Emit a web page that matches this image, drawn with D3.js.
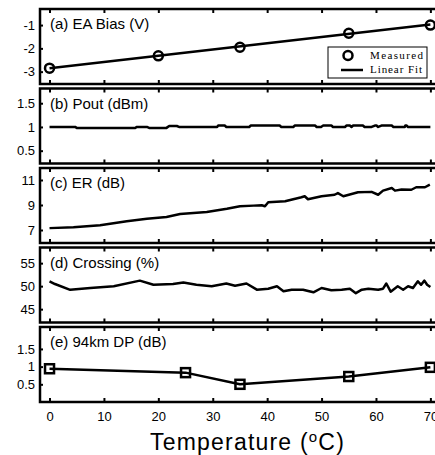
<!DOCTYPE html>
<html>
<head>
<meta charset="utf-8">
<script src="https://cdn.jsdelivr.net/npm/d3@7"></script>
<style>
  body { margin: 0; background: #fff; }
  svg { display: block; }
  .tick text { font-family: "Liberation Sans", Arial, sans-serif; font-size: 13px; fill: #000; }
  .tick line { stroke: #000; stroke-width: 2; }
  .plabel { font-family: "Liberation Sans", Arial, sans-serif; font-size: 15px; }
  .legend { font-family: "Liberation Serif", "Times New Roman", serif; font-size: 11px; }
</style>
</head>
<body>
<div id="chart"></div>
<script>
const width = 435;
const height = 455;

// x axis ticks (temperature, degC)
const xTicks = [0, 10, 20, 30, 40, 50, 60, 70];

// (a) EA bias, measured points and linear fit
const biasT = [0, 20, 35, 55, 70];
const biasV = [-2.85, -2.32, -1.95, -1.35, -1.0];
const fitT = [0, 70];
const fitV = [-2.85, -0.98];

// (b) output power (dBm)
const poutT = [0, 4.7, 5, 15.8, 16, 17.9, 18.3, 21.5, 22, 23.4, 23.8, 30.8, 31, 32.2, 32.5, 36.7, 37,
  42.3, 42.6, 44.8, 45.1, 48.8, 49.1, 49.9, 50.3, 51.8, 52.1, 54.3, 54.6, 55.2, 55.5, 55.8, 57.6,
  57.9, 59.2, 59.8, 60.1, 60.4, 61, 62.9, 63.2, 65.3, 65.4, 65.6, 65.9, 70];
const poutV = [1.0, 1.0, 0.98, 0.98, 1.0, 1.0, 0.98, 0.98, 1.02, 1.02, 1.0, 1.0, 1.03, 1.03, 1.0, 1.0, 1.03,
  1.03, 1.0, 1.0, 1.03, 1.03, 1.0, 1.0, 1.03, 1.03, 1.0, 1.0, 1.03, 1.03, 1.0, 1.03, 1.03,
  1.0, 1.0, 1.03, 1.03, 1.0, 1.03, 1.03, 1.0, 1.0, 1.03, 1.03, 1.0, 1.0];

// (c) extinction ratio (dB)
const erT = [0, 4.4, 9.3, 14.2, 17.9, 21.5, 24, 28.9, 32.6, 35, 37.5, 39, 39.6, 40.2, 43.3, 46.3, 46.9,
  47.5, 50, 52.4, 53, 54, 56.7, 59.2, 60.4, 61.3, 62.9, 63.5, 64.7, 66.5, 67.4, 69, 69.9];
const erV = [7.15, 7.22, 7.38, 7.7, 7.9, 8.04, 8.28, 8.44, 8.7, 8.9, 8.95, 8.98, 8.9, 9.22, 9.3, 9.62, 9.7,
  9.46, 9.7, 9.82, 9.95, 9.7, 10.02, 10.05, 9.82, 10.15, 10.36, 10.15, 10.24, 10.22, 10.42, 10.42, 10.63];

// (d) eye crossing (%)
const crossT = [0, 1, 3.8, 7.5, 11.8, 16.6, 19.1, 22.7, 24.6, 27, 29.8, 32.5, 34.1, 36.2, 38.1, 40.2,
  41.8, 43, 44.5, 46.6, 48.5, 50, 51.8, 53.7, 55.2, 56.3, 57.4, 58.6, 60.4, 61.3, 61.9, 62.7, 64,
  65, 65.9, 66.8, 67.7, 68.3, 68.9, 69.4, 70];
const crossV = [51.05, 50.46, 49.2, 49.6, 49.97, 51.2, 50.3, 50.46, 50.8, 50.3, 49.97, 50.57, 50.1, 50.57,
  49.23, 49.45, 49.97, 48.88, 49.23, 49.23, 48.66, 49.6, 49.1, 49.23, 49.45, 48.47, 49.23, 49.45,
  49.23, 49.45, 50.57, 48.8, 49.97, 49.23, 49.97, 49.6, 51.05, 50.3, 51.2, 50.3, 49.8];

// (e) 94km dispersion penalty (dB)
const dpT = [0, 25, 35, 55, 70];
const dpV = [0.94, 0.83, 0.5, 0.72, 0.98];

// y tick values / labels per panel
const ticksA = [-1, -2, -3];
const labelsA = ["-1", "-2", "-3"];
const ticksB = [1.5, 1, 0.5];
const labelsB = ["1.5", "1", "0.5"];
const ticksC = [11, 9, 7];
const labelsC = ["11", "9", "7"];
const ticksD = [55, 50, 45];
const labelsD = ["55", "50", "45"];
const ticksE = [1.5, 1, 0.5];
const labelsE = ["1.5", "1", "0.5"];

const left = 40;
const right = 438;
const panelTop = 9;
const panelStep = 79.5;
const panelH = 75;

const panels = [
  { label: "(a) EA Bias (V)", domain: [-3.53, -0.31], ticks: ticksA, labels: labelsA },
  { label: "(b) Pout (dBm)", domain: [0.23, 1.81], ticks: ticksB, labels: labelsB },
  { label: "(c) ER (dB)", domain: [5.96, 11.96], ticks: ticksC, labels: labelsC },
  { label: "(d) Crossing (%)", domain: [42.1, 58.4], ticks: ticksD, labels: labelsD },
  { label: "(e) 94km DP (dB)", domain: [0, 2.12], ticks: ticksE, labels: labelsE },
];

const svg = d3
  .select("#chart")
  .append("svg")
  .attr("width", width)
  .attr("height", height);

const x = d3.scaleLinear().domain([-1.75, 71.4]).range([left, right]);

const zip = (a, b) => a.map((d, i) => [d, b[i]]);

panels.forEach((p, i) => {
  const top = panelTop + i * panelStep;
  const y = d3.scaleLinear().domain(p.domain).range([top + panelH, top]);
  p.y = y;
  const g = svg.append("g").attr("class", "panel");

  // y axis, inward ticks
  const yAxis = g
    .append("g")
    .attr("transform", "translate(" + left + ",0)")
    .call(
      d3.axisLeft(y)
        .tickValues(p.ticks)
        .tickSize(-3)
        .tickPadding(5)
        .tickFormat((d, k) => p.labels[k])
    );
  yAxis.select(".domain").remove();

  // top and bottom x ticks
  const xb = g
    .append("g")
    .attr("transform", "translate(0," + (top + panelH) + ")")
    .call(
      d3.axisBottom(x)
        .tickValues(xTicks)
        .tickSize(-4)
        .tickPadding(10)
        .tickFormat(i === panels.length - 1 ? (d) => d : "")
    );
  xb.select(".domain").remove();
  const xt = g
    .append("g")
    .attr("transform", "translate(0," + top + ")")
    .call(d3.axisTop(x).tickValues(xTicks).tickSize(-4).tickFormat(""));
  xt.select(".domain").remove();

  g.append("rect")
    .attr("x", left)
    .attr("y", top)
    .attr("width", right - left)
    .attr("height", panelH)
    .attr("fill", "none")
    .attr("stroke", "black")
    .attr("stroke-width", 2.5);

  g.append("text")
    .attr("class", "plabel")
    .attr("x", 50)
    .attr("y", top + 20)
    .text(p.label);
});

const line = (y) =>
  d3.line()
    .x((d) => x(d[0]))
    .y((d) => y(d[1]));

function drawLine(pi, data, w) {
  svg.append("path")
    .datum(data)
    .attr("fill", "none")
    .attr("stroke", "black")
    .attr("stroke-width", w)
    .attr("stroke-linejoin", "round")
    .attr("d", line(panels[pi].y));
}

// (a)
drawLine(0, zip(fitT, fitV), 2.5);
svg.append("g")
  .selectAll("circle")
  .data(zip(biasT, biasV))
  .join("circle")
  .attr("cx", (d) => x(d[0]))
  .attr("cy", (d) => panels[0].y(d[1]))
  .attr("r", 4.5)
  .attr("fill", "none")
  .attr("stroke", "black")
  .attr("stroke-width", 2.5);

// legend
const lg = svg.append("g");
lg.append("rect")
  .attr("x", 328).attr("y", 47).attr("width", 99).attr("height", 31)
  .attr("fill", "white").attr("stroke", "black").attr("stroke-width", 1);
lg.append("circle")
  .attr("cx", 348).attr("cy", 55.5).attr("r", 4.5)
  .attr("fill", "none").attr("stroke", "black").attr("stroke-width", 2.5);
lg.append("line")
  .attr("x1", 341).attr("x2", 363).attr("y1", 70).attr("y2", 70)
  .attr("stroke", "black").attr("stroke-width", 2.5);
lg.append("text").attr("class", "legend").attr("x", 370).attr("y", 59)
  .attr("textLength", 53).text("Measured");
lg.append("text").attr("class", "legend").attr("x", 370).attr("y", 73)
  .attr("textLength", 52).text("Linear Fit");

// (b) (c) (d)
drawLine(1, zip(poutT, poutV), 2.5);
drawLine(2, zip(erT, erV), 2.5);
drawLine(3, zip(crossT, crossV), 2.5);

// (e)
drawLine(4, zip(dpT, dpV), 2.5);
svg.append("g")
  .selectAll("rect")
  .data(zip(dpT, dpV))
  .join("rect")
  .attr("x", (d) => x(d[0]) - 4.5)
  .attr("y", (d) => panels[4].y(d[1]) - 4.5)
  .attr("width", 9)
  .attr("height", 9)
  .attr("fill", "none")
  .attr("stroke", "black")
  .attr("stroke-width", 2.5);

// x axis title
const title = svg.append("text")
  .attr("x", 150)
  .attr("y", 450)
  .style("font-family", "'Liberation Sans', Arial, sans-serif")
  .style("font-size", "23px")
  .style("letter-spacing", "1.2px");
title.append("tspan").text("Temperature (");
title.append("tspan").attr("dy", -8).style("font-size", "15px").text("o");
title.append("tspan").attr("dy", 8).text("C)");
</script>
</body>
</html>
